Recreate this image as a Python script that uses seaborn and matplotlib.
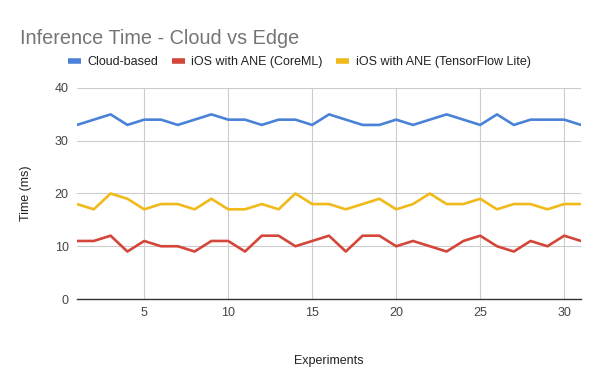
import matplotlib
matplotlib.use("Agg")
import matplotlib.pyplot as plt
import seaborn as sns
import pandas as pd
from matplotlib.lines import Line2D

experiments = list(range(1, 32))
cloud = [33,34,35,33,34,34,33,34,35,34,34,33,34,34,33,35,34,33,33,34,33,34,35,34,33,35,33,34,34,34,33]
coreml = [11,11,12,9,11,10,10,9,11,11,9,12,12,10,11,12,9,12,12,10,11,10,9,11,12,10,9,11,10,12,11]
tflite = [18,17,20,19,17,18,18,17,19,17,17,18,17,20,18,18,17,18,19,17,18,20,18,18,19,17,18,18,17,18,18]
series_names = ["Cloud-based", "iOS with ANE (CoreML)", "iOS with ANE (TensorFlow Lite)"]
colors = ["#4A82D8", "#D4453A", "#EFBA1A"]

df = pd.DataFrame({"Experiment": experiments,
                   series_names[0]: cloud,
                   series_names[1]: coreml,
                   series_names[2]: tflite})
long = df.melt(id_vars="Experiment", var_name="Series", value_name="Time")

sns.set_theme(style="white")
plt.rcParams['font.family'] = ['Liberation Sans', 'DejaVu Sans']

fig = plt.figure(figsize=(6, 3.71), dpi=100)
ax = fig.add_axes([77/600, 1-299/371, (581-77)/600, (299-88)/371])
sns.lineplot(data=long, x="Experiment", y="Time", hue="Series",
             palette=dict(zip(series_names, colors)), linewidth=1.9, ax=ax, legend=False)

ax.set_xlim(1, 31)
ax.set_ylim(0, 40)
ax.set_xticks([5, 10, 15, 20, 25, 30])
ax.set_yticks([0, 10, 20, 30, 40])
ax.grid(True, color="#cccccc", linewidth=0.8)
ax.set_axisbelow(True)
for s in ["top", "right", "left"]:
    ax.spines[s].set_visible(False)
ax.spines["bottom"].set_color("#333333")
ax.spines["bottom"].set_linewidth(1)
ax.tick_params(axis="both", length=0, labelsize=9, colors="#444444", pad=6)
ax.set_xlabel("Experiments", fontsize=9, color="#222222", labelpad=26)
ax.set_ylabel("Time (ms)", fontsize=9, color="#222222", labelpad=16)

fig.text(20/600, 1-38/371, "Inference Time - Cloud vs Edge", fontsize=14.3,
         color="#757575", va="center", ha="left")

handles = [Line2D([0], [0], color=c, linewidth=4, solid_capstyle="butt") for c in colors]
fig.legend(handles, series_names, loc="center", bbox_to_anchor=(299/600, 1-62/371),
           ncol=3, frameon=False, fontsize=9, handlelength=1.05, handletextpad=0.5,
           columnspacing=1.1, labelcolor="#222222")

fig.savefig("out.png", dpi=100)
